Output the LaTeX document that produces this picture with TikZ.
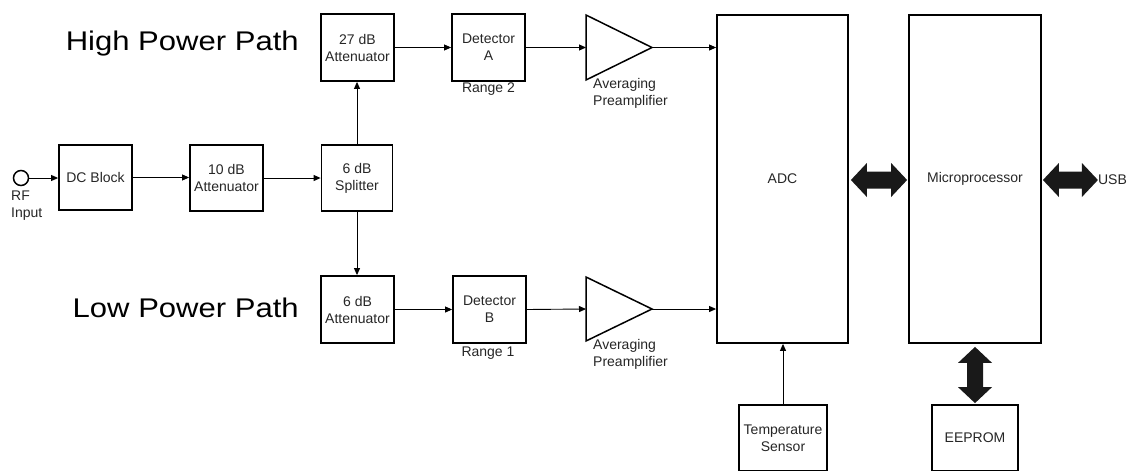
\documentclass[tikz,border=0pt]{standalone}
\usepackage{fontspec}
\setmainfont{Liberation Sans}
\usetikzlibrary{arrows.meta,calc}
\begin{document}
\begin{tikzpicture}[x=1pt,y=-1pt,
  box/.style={draw=black,line width=1.8pt,inner sep=0pt,align=center,font=\fontsize{14}{17}\selectfont,text=black!85},
  lbl/.style={inner sep=0pt,align=left,font=\fontsize{14}{17}\selectfont,text=black!85},
  conn/.style={line width=0.9pt,-{Triangle[length=7pt,width=6pt]}},
  bus/.style={fill=black!90},
  big/.style={inner sep=0pt,font=\fontsize{27}{30}\selectfont},
  amp/.style={line width=1.5pt,line join=miter}
]
\useasboundingbox (0,0) rectangle (1130,471);

% path labels
\node[big,anchor=base east] (hp) at (299,50.7) {\scalebox{1.15}[1]{High Power Path}};
\node[big,anchor=base east] (lp) at (299,317) {\scalebox{1.15}[1]{Low Power Path}};

% input
\node[circle,draw,line width=1.5pt,minimum size=15pt,inner sep=0pt] (rf) at (21,178) {};
\node[lbl,anchor=west] (rflbl) at (11,206) {RF\\Input};

% blocks
\node[box,minimum width=73pt,minimum height=65pt] (dc) at (95.5,177.5) {DC Block};
\node[box,minimum width=73pt,minimum height=66pt] (att10) at (226.5,178) {10 dB\\Attenuator};
\node[box,minimum width=71pt,minimum height=66pt] (split) at (357,178) {6 dB\\Splitter};
\node[box,minimum width=73pt,minimum height=67pt] (att27) at (357.5,47.5) {27 dB\\Attenuator};
\node[box,minimum width=73pt,minimum height=67pt] (detA) at (488.5,47.5) {Detector\\A};
\node[box,minimum width=73pt,minimum height=67pt] (att6) at (357.5,309.5) {6 dB\\Attenuator};
\node[box,minimum width=73pt,minimum height=67pt] (detB) at (489.5,309.5) {Detector\\B};
\node[box,minimum width=131pt,minimum height=328pt] (adc) at (782.5,179) {ADC};
\node[box,minimum width=132pt,minimum height=328pt] (mp) at (975,179) {Microprocessor};
\node[box,minimum width=88pt,minimum height=66pt] (temp) at (783,438) {Temperature\\Sensor};
\node[box,minimum width=86pt,minimum height=66pt] (ee) at (975,438) {EEPROM};

% labels under detectors
\node[lbl] (r2) at (488.5,89) {Range 2};
\node[lbl] (r1) at (488,353) {Range 1};

% amplifiers
\draw[amp] (586,15) -- (586,80) -- (652,47.5) -- cycle;
\coordinate (ampAin) at (586,47.5);
\coordinate (ampAout) at (652,47.5);
\draw[amp] (586,277) -- (586,341) -- (652,309) -- cycle;
\coordinate (ampBin) at (586,309);
\coordinate (ampBout) at (652,309);
\node[lbl,anchor=west] (avA) at (593,93) {Averaging\\Preamplifier};
\node[lbl,anchor=west] (avB) at (593,354) {Averaging\\Preamplifier};

% connectors
\draw[conn] (rf.east) -- (rf.east -| dc.west);
\draw[conn] (dc.east) -- (dc.east -| att10.west);
\draw[conn] (att10.east) -- (att10.east -| split.west);
\draw[conn] (split.north) -- (split.north |- att27.south);
\draw[conn] (split.south) -- (split.south |- att6.north);
\draw[conn] (att27.east) -- (detA.west);
\draw[conn] (detA.east) -- (ampAin);
\draw[conn] (ampAout) -- (ampAout -| adc.west);
\draw[conn] (att6.east) -- (detB.west);
\draw[conn] (detB.east) -- (ampBin);
\draw[conn] (ampBout) -- (ampBout -| adc.west);
\draw[conn] (temp.north) -- (temp.north |- adc.south);

% bus arrows
\coordinate (b1L) at ($(adc.east)+(2,1)$);
\coordinate (b1R) at ($(mp.west)+(-1,1)$);
\coordinate (b2L) at ($(mp.east)+(1,1)$);
\coordinate (b2R) at ($(mp.east)+(56,1)$);
\coordinate (b3T) at ($(mp.south)+(0,3)$);
\coordinate (b3B) at ($(ee.north)+(0,-1)$);
\foreach \a/\b in {b1L/b1R,b2L/b2R}{
  \fill[bus] let \p1=(\a), \p2=(\b) in
    (\p1) -- (\x1+16pt,\y1+17pt) -- (\x1+16pt,\y1+8.5pt) -- (\x2-16pt,\y1+8.5pt)
    -- (\x2-16pt,\y1+17pt) -- (\p2) -- (\x2-16pt,\y1-17pt) -- (\x2-16pt,\y1-8.5pt)
    -- (\x1+16pt,\y1-8.5pt) -- (\x1+16pt,\y1-17pt) -- cycle;
}
\fill[bus] let \p1=(b3T), \p2=(b3B) in
  (\p1) -- (\x1+17pt,\y1-16pt) -- (\x1+8pt,\y1-16pt) -- (\x1+8pt,\y2+16pt)
  -- (\x1+17pt,\y2+16pt) -- (\p2) -- (\x1-17pt,\y2+16pt) -- (\x1-8pt,\y2+16pt)
  -- (\x1-8pt,\y1-16pt) -- (\x1-17pt,\y1-16pt) -- cycle;
\node[lbl,anchor=west] (usb) at (b2R) {USB};
\end{tikzpicture}
\end{document}
